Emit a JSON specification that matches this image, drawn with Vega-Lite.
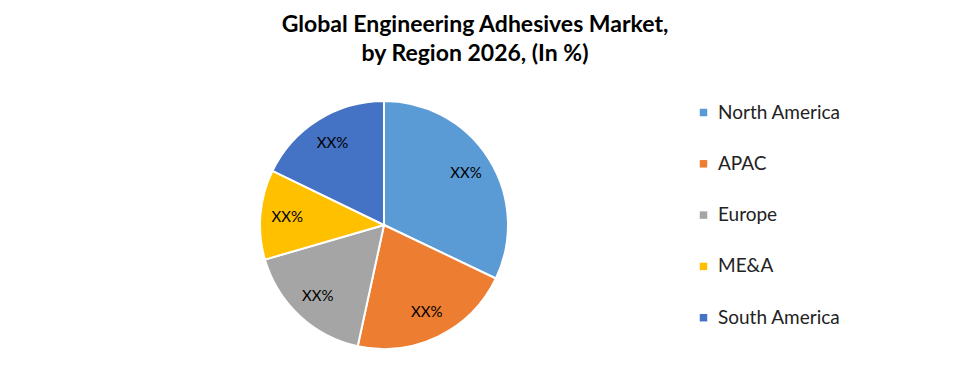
{
  "$schema": "https://vega.github.io/schema/vega-lite/v6.json",
  "width": 248,
  "height": 248,
  "autosize": {"type": "none"},
  "padding": {"left": 260, "top": 101, "right": 465, "bottom": 35},
  "background": "white",
  "title": {
    "text": ["Global Engineering Adhesives Market,", "by Region 2026, (In %)"],
    "font": "Lato",
    "fontSize": 23,
    "fontWeight": "bold",
    "color": "black",
    "lineHeight": 29,
    "anchor": "middle",
    "dx": 91,
    "offset": 31
  },
  "data": {
    "values": [
      {"region": "North America", "share": 32.1, "label": "XX%", "idx": 1},
      {"region": "APAC", "share": 21.3, "label": "XX%", "idx": 2},
      {"region": "Europe", "share": 17.1, "label": "XX%", "idx": 3},
      {"region": "ME&A", "share": 11.7, "label": "XX%", "idx": 4},
      {"region": "South America", "share": 17.8, "label": "XX%", "idx": 5}
    ]
  },
  "encoding": {
    "theta": {"field": "share", "type": "quantitative", "stack": true},
    "order": {"field": "idx", "type": "quantitative"},
    "color": {
      "field": "region",
      "type": "nominal",
      "sort": ["North America", "APAC", "Europe", "ME&A", "South America"],
      "scale": {
        "domain": ["North America", "APAC", "Europe", "ME&A", "South America"],
        "range": ["#5B9BD5", "#ED7D31", "#A5A5A5", "#FFC000", "#4472C4"]
      },
      "legend": {
        "title": null,
        "orient": "none",
        "legendX": 434,
        "legendY": 2,
        "symbolType": "square",
        "symbolSize": 56,
        "symbolStrokeWidth": 0,
        "labelFont": "Lato",
        "labelFontSize": 19,
        "labelColor": "#222222",
        "labelOffset": 5,
        "rowPadding": 31.3
      }
    }
  },
  "layer": [
    {
      "mark": {"type": "arc", "outerRadius": 124, "stroke": "white", "strokeWidth": 2}
    },
    {
      "mark": {"type": "text", "radius": 97, "font": "Lato", "fontSize": 15, "color": "black"},
      "encoding": {"text": {"field": "label"}, "color": {"value": "black"}}
    }
  ]
}
